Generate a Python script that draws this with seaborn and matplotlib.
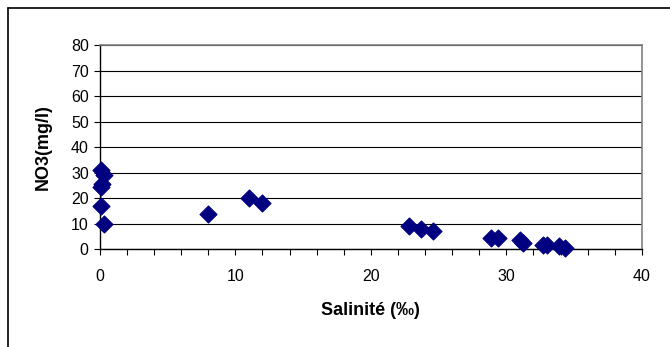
import matplotlib
matplotlib.use("Agg")
import matplotlib.pyplot as plt
import seaborn as sns
import pandas as pd
from matplotlib.ticker import MultipleLocator
from matplotlib.lines import Line2D

salinite = [0.1, 0.3, 0.15, 0.05, 0.1, 0.3, 8.0, 11.0, 12.0, 22.8, 23.7, 24.6,
            28.9, 29.4, 31.0, 31.2, 32.7, 33.0, 33.9, 34.3]
no3 = [31, 29, 25.5, 24.5, 17, 10, 14, 20, 18, 9, 7.8, 7,
       4.5, 4.2, 3.5, 2.5, 1.8, 1.5, 1.3, 0.6]

df = pd.DataFrame({"Salinité": salinite, "NO3": no3})

sns.set_theme(style="white")
plt.rcParams['font.family'] = ['Liberation Sans', 'DejaVu Sans']
plt.rcParams['text.color'] = 'black'
plt.rcParams['axes.labelcolor'] = 'black'

fig = plt.figure(figsize=(6.7, 3.47), dpi=100)
ax = fig.add_axes([0.149, 0.282, 0.809, 0.587])

sns.scatterplot(data=df, x="Salinité", y="NO3", marker="D", color="#000080",
                s=75, edgecolor="#000080", linewidth=0.8, ax=ax, zorder=3, clip_on=False)

ax.set_xlim(0, 40)
ax.set_ylim(0, 80)
ax.xaxis.set_major_locator(MultipleLocator(10))
ax.xaxis.set_minor_locator(MultipleLocator(2))
ax.yaxis.set_major_locator(MultipleLocator(10))
ax.grid(axis="y", color="black", linewidth=0.8)
ax.grid(axis="x", visible=False)
ax.set_axisbelow(True)

for side in ["left", "bottom"]:
    ax.spines[side].set_color("black")
    ax.spines[side].set_linewidth(1.0)
for side in ["top", "right"]:
    ax.spines[side].set_color("#808080")
    ax.spines[side].set_linewidth(1.2)

ax.tick_params(axis="both", which="both", direction="out", colors="black",
               labelsize=11.5, length=4, width=0.8)
ax.tick_params(axis="x", which="minor", bottom=True, length=4, width=0.8)
ax.tick_params(axis="x", which="major", bottom=True, pad=10)
ax.tick_params(axis="y", which="major", left=True, pad=4)

ax.set_xlabel("Salinité (‰)", fontsize=13, fontweight="bold", color="black")
ax.set_ylabel("NO3(mg/l)", fontsize=13, fontweight="bold", color="black")
ax.xaxis.set_label_coords(0.5, -0.30)
ax.yaxis.set_label_coords(-0.105, 0.5)
ax.xaxis.label.set_va("center")
ax.yaxis.label.set_va("center")

# outer chart border (top and left visible)
fig.add_artist(Line2D([8/670, 1.0], [1 - 8/347, 1 - 8/347], transform=fig.transFigure,
                      color="black", linewidth=1.2))
fig.add_artist(Line2D([8/670, 8/670], [0.0, 1 - 8/347], transform=fig.transFigure,
                      color="black", linewidth=1.2))

fig.savefig("out.png", dpi=100)
